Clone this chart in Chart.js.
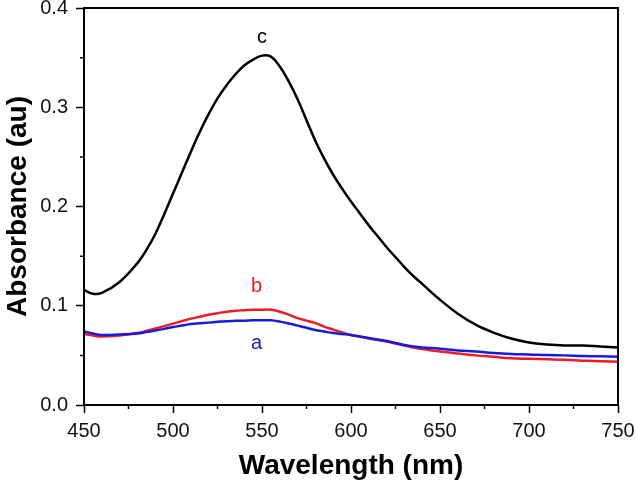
<!DOCTYPE html>
<html>
<head>
<meta charset="utf-8">
<script src="https://cdn.jsdelivr.net/npm/chart.js@4/dist/chart.umd.min.js"></script>
<style>
  html, body { margin: 0; padding: 0; background: #fff; }
  #wrap { width: 636px; height: 483px; }
</style>
</head>
<body>
<div id="wrap"><canvas id="chart" width="636" height="483"></canvas></div>
<script>
const WAVELENGTH = [450,455,460,470,480,485,490,495,500,505,510,515,520,525,530,535,540,545,550,555,
                    560,565,570,575,580,585,590,595,600,605,610,615,620,625,630,635,640,
                    650,660,670,680,690,700,710,720,730,740,750];
const ABS_A = [0.074,0.072,0.0705,0.071,0.072,0.0735,0.075,0.0767,0.0785,0.080,0.0815,0.0823,0.083,0.0838,
               0.0845,0.0848,0.085,0.0853,0.0855,0.0853,0.084,0.0822,0.080,0.0778,0.0755,0.074,0.0725,
               0.0715,0.0705,0.069,0.0675,0.066,0.0645,0.0625,0.0605,0.059,0.058,
               0.0567,0.055,0.054,0.0525,0.0515,0.051,0.0503,0.050,0.0494,0.049,0.0487];
const ABS_B = [0.0715,0.070,0.069,0.070,0.0725,0.0745,0.077,0.0795,0.082,0.0845,0.087,0.089,0.091,0.0925,
               0.094,0.095,0.0955,0.096,0.096,0.096,0.094,0.091,0.0875,0.085,0.0825,0.079,0.076,
               0.073,0.0705,0.0688,0.067,0.0655,0.064,0.062,0.060,0.058,0.0565,
               0.054,0.052,0.050,0.0485,0.047,0.0465,0.046,0.0455,0.0447,0.044,0.0437];
const ABS_C = [0.116,0.112,0.113,0.124,0.143,0.156,0.172,0.192,0.213,0.234,0.255,0.275,0.293,0.309,
               0.322,0.333,0.342,0.348,0.352,0.351,0.341,0.326,0.308,0.287,0.266,0.248,0.232,
               0.218,0.205,0.193,0.181,0.170,0.159,0.149,0.139,0.130,0.122,
               0.106,0.092,0.081,0.073,0.067,0.063,0.061,0.060,0.060,0.059,0.058];
const X_TICKS = [450,500,550,600,650,700,750];
const Y_TICKS = [0.0,0.1,0.2,0.3,0.4];
const CURVE_LABELS = [
  { text: 'c', x: 550, y: 0.370, color: '#000000' },
  { text: 'b', x: 547, y: 0.119, color: '#ed1c24' },
  { text: 'a', x: 547, y: 0.0615, color: '#1a1adc' },
];

const FONT_FAMILY = '"Liberation Sans", Arial, sans-serif';
const TICK_FONT   = { family: FONT_FAMILY, size: 20 };
const TITLE_FONT  = { family: FONT_FAMILY, size: 28, weight: 'bold' };

const pts = vals => WAVELENGTH.map((w, i) => ({ x: w, y: vals[i] }));

// frame, minor ticks and curve letters
const extrasPlugin = {
  id: 'extras',
  afterDraw(chart) {
    const { ctx, chartArea: a, scales: { x, y } } = chart;
    ctx.save();
    ctx.strokeStyle = '#000';
    ctx.lineWidth = 2;
    ctx.strokeRect(a.left, a.top, a.right - a.left, a.bottom - a.top);

    ctx.lineWidth = 1.5;
    ctx.beginPath();
    for (let v = 475; v < 750; v += 50) {
      const px = x.getPixelForValue(v);
      ctx.moveTo(px, a.bottom); ctx.lineTo(px, a.bottom + 4);
    }
    for (let v = 0.05; v < 0.4; v += 0.1) {
      const py = y.getPixelForValue(v);
      ctx.moveTo(a.left, py); ctx.lineTo(a.left - 4, py);
    }
    ctx.stroke();

    ctx.font = `20px ${FONT_FAMILY}`;
    ctx.textAlign = 'center';
    ctx.textBaseline = 'middle';
    CURVE_LABELS.forEach(l => {
      ctx.fillStyle = l.color;
      ctx.fillText(l.text, x.getPixelForValue(l.x), y.getPixelForValue(l.y));
    });
    ctx.restore();
  }
};

new Chart(document.getElementById('chart'), {
  type: 'line',
  data: {
    datasets: [
      { label: 'a', data: pts(ABS_A), borderColor: '#1a1adc', borderWidth: 2.5 },
      { label: 'b', data: pts(ABS_B), borderColor: '#ed1c24', borderWidth: 2.5 },
      { label: 'c', data: pts(ABS_C), borderColor: '#000000', borderWidth: 2.5 },
    ],
  },
  options: {
    responsive: false,
    animation: false,
    parsing: false,
    elements: { point: { radius: 0 }, line: { tension: 0.4, fill: false } },
    layout: { padding: { left: 0, top: 8, right: 18, bottom: 0 } },
    plugins: { legend: { display: false }, tooltip: { enabled: false } },
    scales: {
      x: {
        type: 'linear', min: 450, max: 750,
        afterBuildTicks: s => { s.ticks = X_TICKS.map(v => ({ value: v })); },
        afterFit: s => { s.height = 78; s.paddingLeft = 0; s.paddingRight = 0; },
        border: { display: false },
        grid: { drawOnChartArea: false, tickLength: 8, tickWidth: 1.5, tickColor: '#000' },
        ticks: { color: '#111', font: TICK_FONT, padding: 6, maxRotation: 0, autoSkip: false },
        title: { display: true, text: 'Wavelength (nm)', color: '#000', font: TITLE_FONT, padding: { top: 0, bottom: 0 } },
      },
      y: {
        min: 0, max: 0.4,
        afterBuildTicks: s => { s.ticks = Y_TICKS.map(v => ({ value: v })); },
        afterFit: s => { s.width = 84; s.paddingTop = 0; s.paddingBottom = 0; },
        border: { display: false },
        grid: { drawOnChartArea: false, tickLength: 8, tickWidth: 1.5, tickColor: '#000' },
        ticks: { color: '#111', font: TICK_FONT, padding: 8, autoSkip: false, callback: v => v.toFixed(1) },
        title: { display: true, text: 'Absorbance (au)', color: '#000', font: TITLE_FONT, padding: { top: 1, bottom: 0 } },
      },
    },
  },
  plugins: [extrasPlugin],
});
</script>
</body>
</html>
